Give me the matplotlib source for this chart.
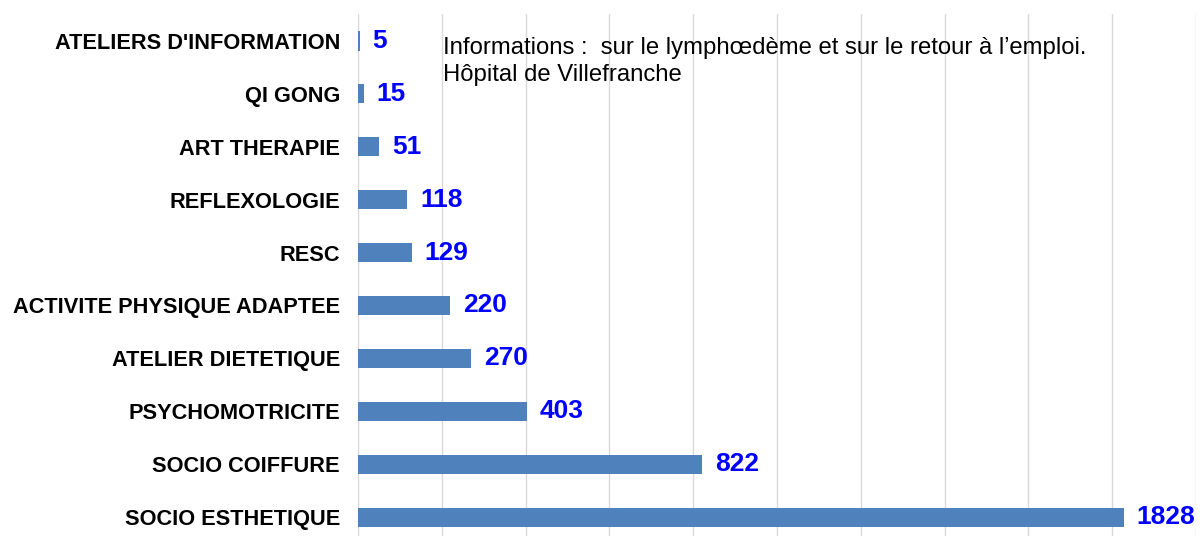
import matplotlib.pyplot as plt

# Data (top to bottom as in the chart)
categories = ["ATELIERS D'INFORMATION", "QI GONG", "ART THERAPIE", "REFLEXOLOGIE",
              "RESC", "ACTIVITE PHYSIQUE ADAPTEE", "ATELIER DIETETIQUE",
              "PSYCHOMOTRICITE", "SOCIO COIFFURE", "SOCIO ESTHETIQUE"]
values = [5, 15, 51, 118, 129, 220, 270, 403, 822, 1828]

note = "Informations :  sur le lymphœdème et sur le retour à l\u2019emploi.\nHôpital de Villefranche"

plt.rcParams['font.family'] = ['Liberation Sans', 'DejaVu Sans']

fig = plt.figure(figsize=(12.03, 5.36), dpi=100)
fig.set_facecolor('white')
# axes spans x 358..1196 px, y 14..536 px
ax = fig.add_axes([358 / 1203, 0, (1196 - 358) / 1203, (536 - 14) / 536])

pos = list(range(len(categories)))
ax.barh(pos, values, height=0.36, color='#4F81BD', zorder=3)

for p, v in zip(pos, values):
    ax.text(v + 30, p, str(v), color='#0000FF', fontsize=19, fontweight='bold',
            va='center', ha='left', zorder=4)

ax.set_xlim(0, 2000)
ax.set_ylim(9.357, -0.51)
ax.set_xticks(range(0, 2001, 200))
ax.xaxis.grid(True, color='#D9D9D9', linewidth=1, zorder=0)
ax.tick_params(axis='x', length=0, labelbottom=False)
ax.tick_params(axis='y', length=0, pad=13)
ax.set_yticks(pos)
ax.set_yticklabels(categories, fontsize=15.7, fontweight='bold', color='black')

for s in ['top', 'right', 'bottom']:
    ax.spines[s].set_visible(False)
ax.spines['left'].set_color('#D9D9D9')

fig.text(443 / 1203, 1 - 37 / 536, note, fontsize=17.2, color='black',
         va='top', ha='left', linespacing=1.32)

fig.savefig('out.png', dpi=100, facecolor='white')
